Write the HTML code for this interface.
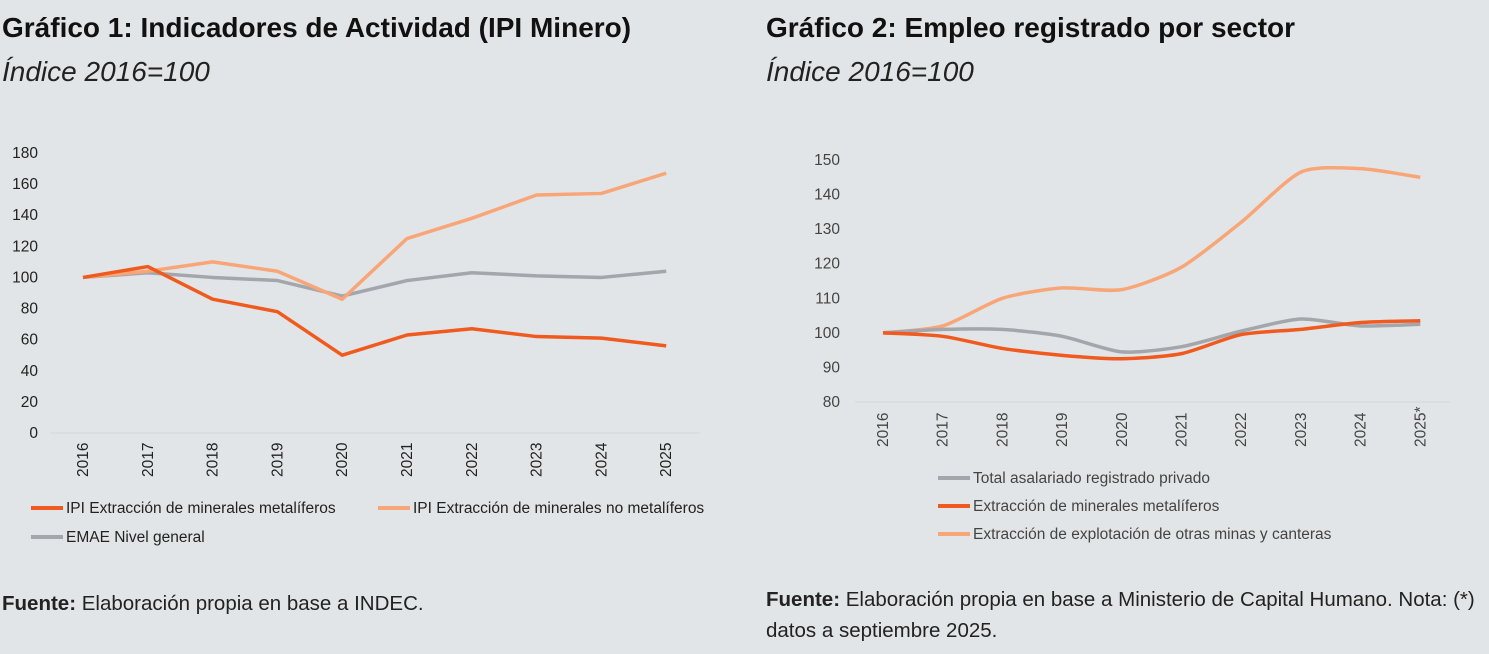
<!DOCTYPE html>
<html><head><meta charset="utf-8"><style>
body{margin:0;width:1489px;height:654px;background:#e2e5e7;font-family:"Liberation Sans",sans-serif;overflow:hidden}
svg{position:absolute;left:0;top:0}
</style></head><body>
<svg width="1489" height="654" xmlns="http://www.w3.org/2000/svg" font-family="Liberation Sans, sans-serif">
<text x="2" y="37" font-size="28" font-weight="bold" fill="#111">Gráfico 1: Indicadores de Actividad (IPI Minero)</text>
<text x="2" y="81" font-size="28" font-style="italic" fill="#222">Índice 2016=100</text>
<text x="766" y="37" font-size="28" font-weight="bold" fill="#111">Gráfico 2: Empleo registrado por sector</text>
<text x="766" y="81" font-size="28" font-style="italic" fill="#222">Índice 2016=100</text>
<g id="c1" font-size="15.5" fill="#222"></g>
<g id="c2" font-size="15.5" fill="#444"></g>
<text x="2" y="610" font-size="20.5" fill="#222"><tspan font-weight="bold">Fuente:</tspan> Elaboración propia en base a INDEC.</text>
<text x="766" y="606" font-size="20.5" fill="#222"><tspan font-weight="bold">Fuente:</tspan> Elaboración propia en base a Ministerio de Capital Humano. Nota: (*)</text>
<text x="766" y="637" font-size="20.5" fill="#222">datos a septiembre 2025.</text>
</svg>
<script>
const NS="http://www.w3.org/2000/svg";
function el(g,t,a,txt){const e=document.createElementNS(NS,t);for(const k in a)e.setAttribute(k,a[k]);if(txt!=null)e.textContent=txt;g.appendChild(e);return e;}
function smooth(p){let d="M"+p[0][0]+","+p[0][1];for(let i=0;i<p.length-1;i++){const p0=p[i-1]||p[i],p1=p[i],p2=p[i+1],p3=p[i+2]||p2;const t=0.12;d+=" C"+(p1[0]+(p2[0]-p0[0])*t)+","+(p1[1]+(p2[1]-p0[1])*t)+" "+(p2[0]-(p3[0]-p1[0])*t)+","+(p2[1]-(p3[1]-p1[1])*t)+" "+p2[0]+","+p2[1];}return d;}
const OR="#f05a1e",LO="#f8a678",GR="#a3a6ab";
let g=document.getElementById("c1");
for(let v=0;v<=180;v+=20){el(g,"text",{x:38,y:433-v*1.5556+5,"text-anchor":"end"},v);}
el(g,"line",{x1:50,y1:433,x2:700,y2:433,stroke:"#d4d7da"});
const X1=i=>83+i*64.8;
for(let i=0;i<10;i++){el(g,"text",{transform:`translate(${X1(i)+5},477) rotate(-90)`},2016+i);}
const s1=[[GR,[100,103,100,98,88,98,103,101,100,104]],[LO,[100,104,110,104,86,125,138,153,154,167]],[OR,[100,107,86,78,50,63,67,62,61,56]]];
s1.forEach(([c,v])=>el(g,"polyline",{points:v.map((y,i)=>X1(i)+","+(433-y*1.5556)).join(" "),fill:"none",stroke:c,"stroke-width":3.5,"stroke-linejoin":"round"}));
el(g,"line",{x1:31,y1:508,x2:63,y2:508,stroke:OR,"stroke-width":4});el(g,"text",{x:66,y:513},"IPI Extracción de minerales metalíferos");
el(g,"line",{x1:378,y1:508,x2:410,y2:508,stroke:LO,"stroke-width":4});el(g,"text",{x:413,y:513},"IPI Extracción de minerales no metalíferos");
el(g,"line",{x1:31,y1:537,x2:63,y2:537,stroke:GR,"stroke-width":4});el(g,"text",{x:66,y:542},"EMAE  Nivel general");
g=document.getElementById("c2");
const Y2=v=>402-(v-80)*3.457;
for(let v=80;v<=150;v+=10){el(g,"text",{x:840,y:Y2(v)+5,"text-anchor":"end"},v);}
el(g,"line",{x1:855,y1:402,x2:1450,y2:402,stroke:"#d4d7da"});
const X2=i=>883+i*59.7;
for(let i=0;i<10;i++){el(g,"text",{transform:`translate(${X2(i)+5},447) rotate(-90)`},i==9?"2025*":2016+i);}
const s2=[[LO,[100,102,110,113,112.5,119,132,146.5,147.5,145]],[GR,[100,101,101,99,94.5,96,100.5,104,102,102.5]],[OR,[100,99,95.5,93.5,92.5,94,99.5,101,103,103.5]]];
s2.forEach(([c,v])=>el(g,"path",{d:smooth(v.map((y,i)=>[X2(i),Y2(y)])),fill:"none",stroke:c,"stroke-width":3.5,"stroke-linejoin":"round"}));
[[GR,478,"Total asalariado registrado privado"],[OR,506,"Extracción de minerales metalíferos"],[LO,534,"Extracción de explotación de otras minas y canteras"]].forEach(([c,y,t])=>{el(g,"line",{x1:938,y1:y,x2:970,y2:y,stroke:c,"stroke-width":4});el(g,"text",{x:973,y:y+5},t);});
</script>
</body></html>
